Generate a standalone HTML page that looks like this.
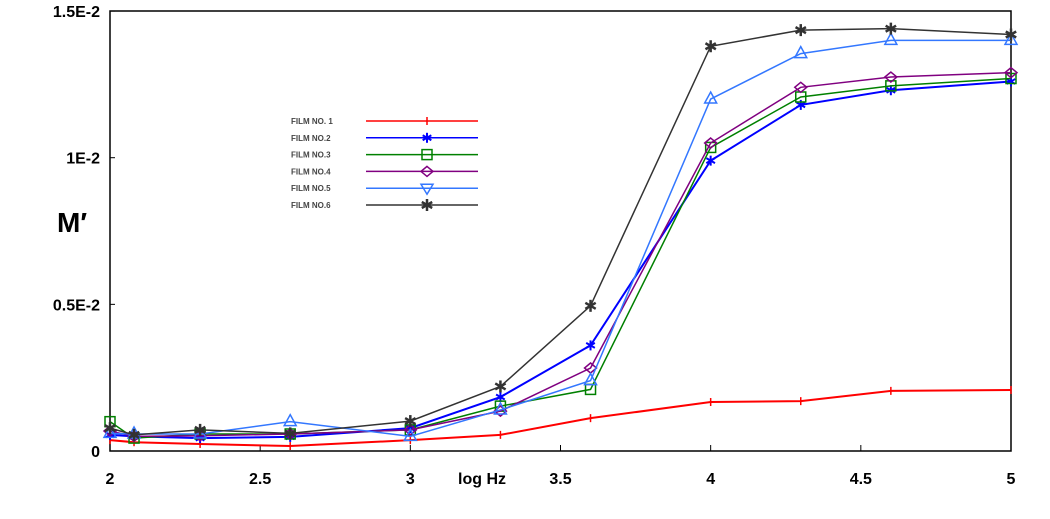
<!DOCTYPE html>
<html><head><meta charset="utf-8"><style>
body{margin:0;background:#fff;}
svg{display:block;font-family:"Liberation Sans",Arial,sans-serif;}
</style></head><body>
<svg id="chart" width="1050" height="519">
<rect x="110" y="11" width="901" height="440" fill="none" stroke="#000" stroke-width="1.5"/>
<g id="axes"></g>
<g id="series"></g>
<g id="legend"></g>
<text x="57" y="232" font-size="28" font-weight="bold">M′</text>
<text x="458" y="484" font-size="16" font-weight="bold">log Hz</text>
</svg>
<script>
const xs=[2,2.08,2.3,2.6,3,3.3,3.6,4,4.3,4.6,5];
const film1=[0.37,0.3,0.24,0.17,0.37,0.55,1.12,1.67,1.7,2.05,2.08];
const film2=[0.55,0.5,0.44,0.48,0.78,1.84,3.6,9.9,11.8,12.3,12.6];
const film3=[1.0,0.44,0.58,0.58,0.72,1.53,2.1,10.35,12.07,12.45,12.7];
const film4=[0.68,0.5,0.52,0.58,0.72,1.36,2.83,10.5,12.4,12.75,12.9];
const film5=[0.6,0.58,0.58,1.0,0.5,1.4,2.4,12.0,13.55,14.0,14.0];
const film6=[0.78,0.55,0.72,0.6,1.02,2.2,4.95,13.8,14.35,14.4,14.2];
const seriesNames=["FILM NO. 1","FILM NO.2","FILM NO.3","FILM NO.4","FILM NO.5","FILM NO.6"];
const xTicks=[2,2.5,3,3.5,4,4.5,5];
const xTickLabels=["2","2.5","3","3.5","4","4.5","5"];
const yTicks=[0,5,10,15];
const yTickLabels=["0","0.5E-2","1E-2","1.5E-2"];
const NS="http://www.w3.org/2000/svg";
const X=v=>110+(v-2)*300.33;
const Y=v=>451-v*29.33;
function mk(t,a,p){const e=document.createElementNS(NS,t);for(const k in a)e.setAttribute(k,a[k]);p.appendChild(e);return e;}
const ax=document.getElementById('axes');
xTicks.forEach((t,i)=>{
  const l=mk('line',{x1:X(t),x2:X(t),y1:451,y2:445,stroke:'#000'},ax);
  
  
  const tx=mk('text',{x:X(t),y:484,'font-size':16,'font-weight':'bold','text-anchor':'middle'},ax);
  tx.textContent=xTickLabels[i];
  
  
});
yTicks.forEach((t,i)=>{
  const l=mk('line',{x1:110,x2:115,y1:Y(t),y2:Y(t),stroke:'#000'},ax);
  
  
  const tx=mk('text',{x:100,y:Y(t)+6,'font-size':16,'font-weight':'bold','text-anchor':'end'},ax);
  tx.textContent=yTickLabels[i];
  
  
});
const colors=['#ff0000','#0000ff','#008000','#800080','#3377ff','#333333'];
const markers=['plus','star','square','diamond','triangle','star6'];
function marker(type,x,y,c,p,inv){
  const g=mk('g',{stroke:c,fill:'none','stroke-width':1.5},p);
  if(type==='plus'){mk('line',{x1:x,x2:x,y1:y-4,y2:y+4},g);}
  else if(type==='star'||type==='star6'){
    const r=type==='star6'?6:5;
    [0,60,120].forEach(a=>{const rad=a*Math.PI/180;mk('line',{x1:x-r*Math.sin(rad),y1:y-r*Math.cos(rad),x2:x+r*Math.sin(rad),y2:y+r*Math.cos(rad),'stroke-width':type==='star6'?2.5:2},g);});
  }
  else if(type==='square'){mk('rect',{x:x-5,y:y-5,width:10,height:10},g);}
  else if(type==='diamond'){mk('polygon',{points:`${x},${y-5} ${x+6},${y} ${x},${y+5} ${x-6},${y}`},g);}
  else if(type==='triangle'){
    if(inv) mk('polygon',{points:`${x},${y+6} ${x+6},${y-4} ${x-6},${y-4}`},g);
    else mk('polygon',{points:`${x},${y-7} ${x+6},${y+4} ${x-6},${y+4}`},g);
  }
  return g;
}
const sg=document.getElementById('series');
[film1,film2,film3,film4,film5,film6].forEach((d,si)=>{
  const g=mk('g',{},sg);
  
  
  const pl=mk('polyline',{points:d.map((v,i)=>X(xs[i])+','+Y(v)).join(' '),fill:'none',stroke:colors[si],'stroke-width':si===0||si===1?2:1.5},g);
  
  
  d.forEach((v,i)=>{
    const m=marker(markers[si],X(xs[i]),Y(v),colors[si],g,false);
    
    
  });
});
const lg=document.getElementById('legend');


seriesNames.forEach((n,i)=>{
  const y=121+i*16.8;
  const g=mk('g',{},lg);
  
  
  const t=mk('text',{x:291,y:y+3,'font-size':8,'font-weight':'bold',fill:'#444'},g);
  t.textContent=n;
  mk('line',{x1:366,x2:478,y1:y,y2:y,stroke:colors[i],'stroke-width':1.5},g);
  marker(markers[i],427,y,colors[i],g,true);
});
</script>
</body></html>
